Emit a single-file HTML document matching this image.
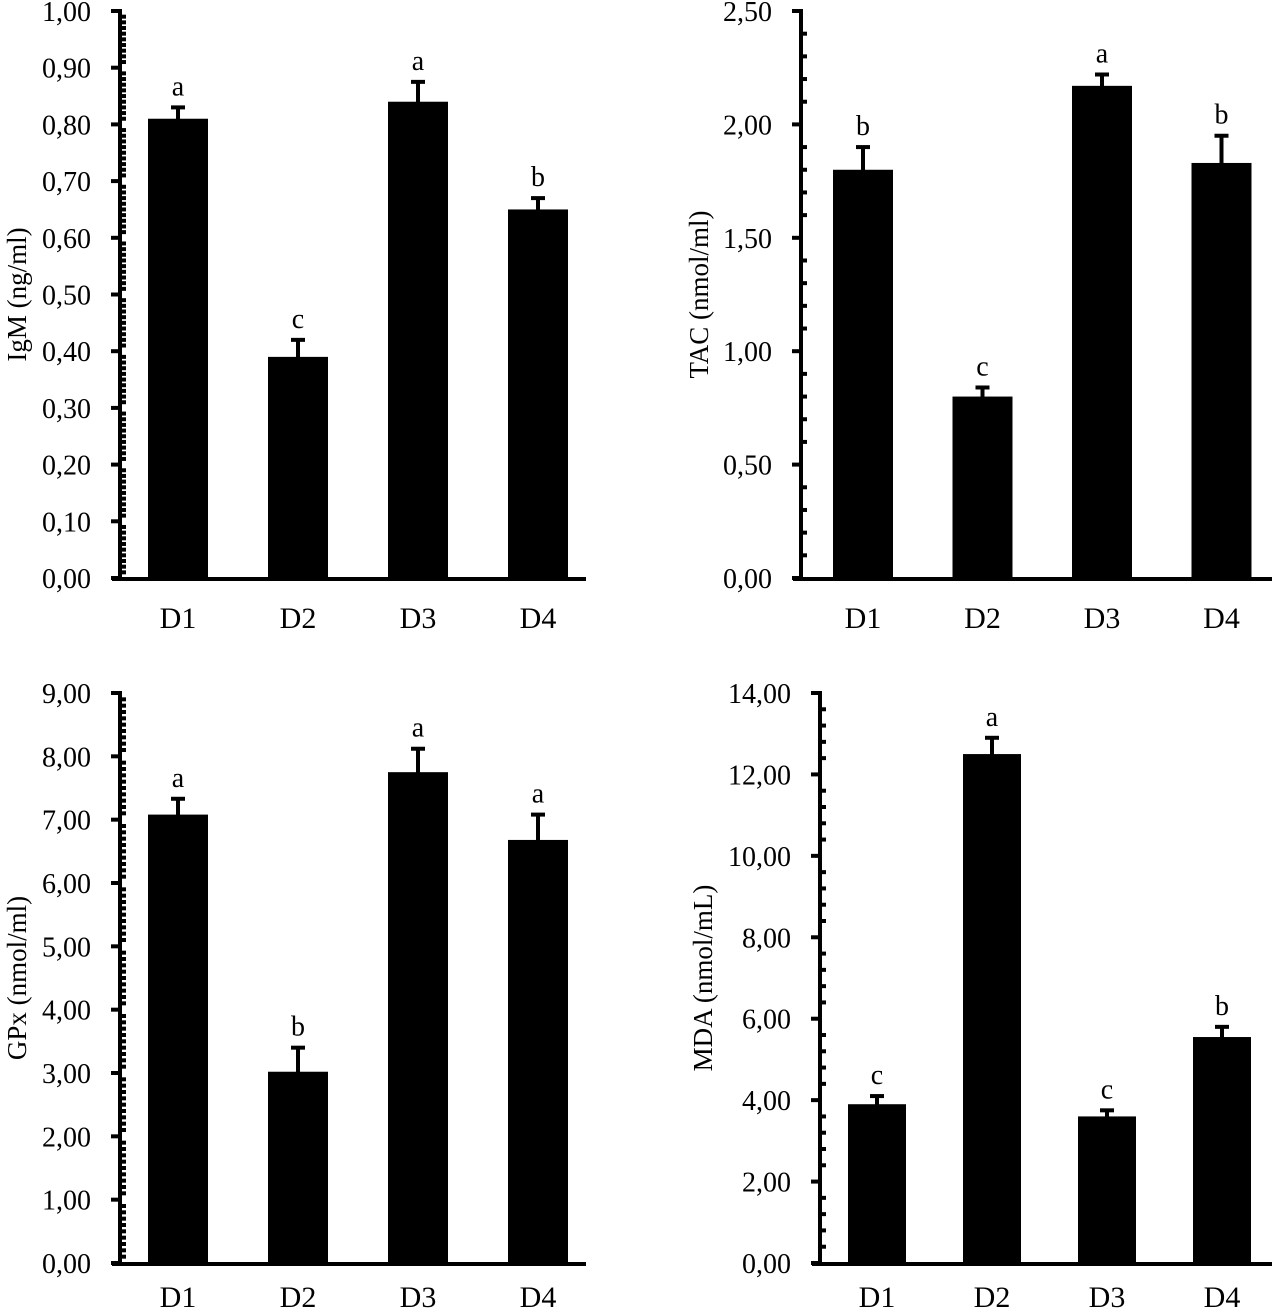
<!DOCTYPE html>
<html><head><meta charset="utf-8">
<style>
html,body{margin:0;padding:0;background:#fff;}
svg{display:block;}
text{font-family:"Liberation Serif",serif;fill:#000;}
</style></head>
<body>
<svg id="chart" width="1280" height="1308" xmlns="http://www.w3.org/2000/svg"></svg>
<script>
const categories = ["D1","D2","D3","D4"];
const igmValues = [0.81,0.39,0.84,0.65];
const igmErrors = [0.02,0.03,0.035,0.02];
const igmLetters = ["a","c","a","b"];
const igmTicks = ["0,00","0,10","0,20","0,30","0,40","0,50","0,60","0,70","0,80","0,90","1,00"];
const tacValues = [1.80,0.80,2.17,1.83];
const tacErrors = [0.10,0.04,0.05,0.12];
const tacLetters = ["b","c","a","b"];
const tacTicks = ["0,00","0,50","1,00","1,50","2,00","2,50"];
const gpxValues = [7.08,3.02,7.75,6.68];
const gpxErrors = [0.25,0.38,0.37,0.40];
const gpxLetters = ["a","b","a","a"];
const gpxTicks = ["0,00","1,00","2,00","3,00","4,00","5,00","6,00","7,00","8,00","9,00"];
const mdaValues = [3.9,12.5,3.6,5.55];
const mdaErrors = [0.2,0.4,0.15,0.25];
const mdaLetters = ["c","a","c","b"];
const mdaTicks = ["0,00","2,00","4,00","6,00","8,00","10,00","12,00","14,00"];

const svg = document.getElementById('chart');
const NS = "http://www.w3.org/2000/svg";
function mk(tag, attrs, parent){
  const e = document.createElementNS(NS, tag);
  for (const k in attrs) e.setAttribute(k, attrs[k]);
  parent.appendChild(e); return e;
}
const panels = [
  {id:"igm", title:"IgM (ng/ml)", vals:igmValues, errs:igmErrors, letters:igmLetters, ticks:igmTicks, max:1.0, step:0.1, sub:10,
   ax:120, y0:578, y1:11, xEnd:586, firstX:178, dx:120, bw:60, titleX:20, catOff:50},
  {id:"tac", title:"TAC (nmol/ml)", vals:tacValues, errs:tacErrors, letters:tacLetters, ticks:tacTicks, max:2.5, step:0.5, sub:5,
   ax:801, y0:578, y1:11, xEnd:1272, firstX:863, dx:119.5, bw:60, titleX:702, catOff:50},
  {id:"gpx", title:"GPx (nmol/ml)", vals:gpxValues, errs:gpxErrors, letters:gpxLetters, ticks:gpxTicks, max:9, step:1, sub:10,
   ax:120, y0:1263, y1:693, xEnd:586, firstX:178, dx:120, bw:60, titleX:20, catOff:44},
  {id:"mda", title:"MDA (nmol/mL)", vals:mdaValues, errs:mdaErrors, letters:mdaLetters, ticks:mdaTicks, max:14, step:2, sub:5,
   ax:820, y0:1263, y1:693, xEnd:1272, firstX:877, dx:115, bw:58, titleX:706, catOff:44}
];
panels.forEach(p => {
  const g = mk('g', {}, svg);
  
  
  const y = v => p.y0 - (v / p.max) * (p.y0 - p.y1);
  p.vals.forEach((v, i) => {
    const cx = p.firstX + i * p.dx;
    const top = y(v), etop = y(v + p.errs[i]);
    const b = mk('rect', {x: cx - p.bw/2, y: top, width: p.bw, height: p.y0 - top, fill:'#000'}, g);
    
    
    const el = mk('rect', {x: cx - 2, y: etop, width: 4, height: top - etop + 1, fill:'#000'}, g);
    
    
    mk('rect', {x: cx - 7, y: etop - 2, width: 14, height: 4, fill:'#000'}, g);
    const t = mk('text', {x: cx, y: etop - 12, 'font-size': 28, 'text-anchor':'middle'}, g);
    t.textContent = p.letters[i];
    
    
    const c = mk('text', {x: cx, y: p.y0 + p.catOff, 'font-size': 30, 'text-anchor':'middle'}, g);
    c.textContent = categories[i];
    
    
  });
  const axis = mk('rect', {x: p.ax - 2, y: p.y1, width: 4, height: p.y0 - p.y1 + 2, fill:'#000'}, g);
  
  
  const xa = mk('rect', {x: p.ax - 8, y: p.y0 - 1, width: p.xEnd - p.ax + 8, height: 4, fill:'#000'}, g);
  
  
  p.ticks.forEach((lab, k) => {
    const v = k * p.step, ty = y(v);
    mk('rect', {x: p.ax - 9, y: ty - 2, width: 11, height: 4, fill:'#000'}, g);
    const t = mk('text', {x: p.ax - 29, y: ty + 10, 'font-size': 28, 'text-anchor':'end'}, g);
    t.textContent = lab;
    
    
    if (k < p.ticks.length - 1) {
      for (let s = 1; s < p.sub; s++) {
        const my = y(v + p.step * s / p.sub);
        mk('rect', {x: p.ax, y: my - 2, width: 6, height: 4, fill:'#000'}, g);
      }
    }
  });
  const mid = (p.y0 + p.y1) / 2;
  const tt = mk('text', {x: p.titleX, y: mid, 'font-size': 27, 'text-anchor':'middle',
    transform: 'rotate(-90 ' + p.titleX + ' ' + mid + ')', 'dominant-baseline':'middle'}, g);
  tt.textContent = p.title;
  
  
});
</script>
</body></html>
